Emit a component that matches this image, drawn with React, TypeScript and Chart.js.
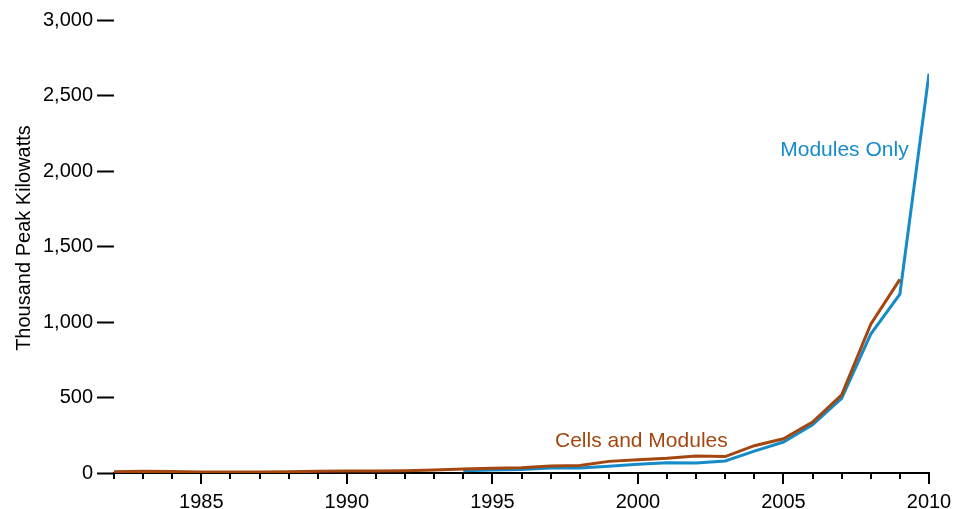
import React, { useEffect, useRef } from "react";
import { Chart, registerables } from "chart.js";

Chart.register(...registerables);

const years = [
  1982, 1983, 1984, 1985, 1986, 1987, 1988, 1989, 1990, 1991, 1992, 1993, 1994, 1995,
  1996, 1997, 1998, 1999, 2000, 2001, 2002, 2003, 2004, 2005, 2006, 2007, 2008, 2009, 2010,
];

const cellsAndModules: (number | null)[] = [
  8, 12, 10, 6, 6, 6, 8, 11, 13, 14, 15, 20, 26, 31, 35, 46, 50, 77, 88, 97, 112, 109,
  181, 227, 337, 517, 986, 1282, null,
];

const modulesOnly: (number | null)[] = [
  null, null, null, null, null, null, null, null, null, null, null, null, 15, 20, 24, 33,
  33, 45, 58, 68, 66, 80, 145, 205, 320, 495, 920, 1185, 2645,
];

const yTicks = [0, 500, 1000, 1500, 2000, 2500, 3000];

const BROWN = "#a4460f";
const BLUE = "#168bc8";
const FONT = "'Liberation Sans', Arial, Helvetica, sans-serif";

const seriesLabels = [
  { text: "Cells and Modules", color: BROWN, x: 1997.15, y: 212, align: "left" as CanvasTextAlign },
  { text: "Modules Only", color: BLUE, x: 2009.3, y: 2140, align: "right" as CanvasTextAlign },
];

const decorPlugin = {
  id: "decor",
  afterDraw(chart: any) {
    const ctx = chart.ctx as CanvasRenderingContext2D;
    const xs = chart.scales.x;
    const ys = chart.scales.y;
    const base = chart.chartArea.bottom;
    ctx.save();
    ctx.strokeStyle = "#000";
    ctx.lineWidth = 2;
    xs.ticks.forEach((t: any) => {
      const px = Math.round(xs.getPixelForValue(t.value));
      const len = t.value % 5 === 0 ? 11 : 6;
      ctx.beginPath();
      ctx.moveTo(px, base);
      ctx.lineTo(px, base + len);
      ctx.stroke();
    });
    ctx.fillStyle = "#000";
    ctx.font = `20px ${FONT}`;
    ctx.textAlign = "center";
    ctx.textBaseline = "middle";
    ctx.translate(24, 238);
    ctx.rotate(-Math.PI / 2);
    ctx.fillText("Thousand Peak Kilowatts", 0, 0);
    ctx.restore();

    ctx.save();
    ctx.font = `21px ${FONT}`;
    ctx.textBaseline = "middle";
    seriesLabels.forEach((l) => {
      ctx.fillStyle = l.color;
      ctx.textAlign = l.align;
      ctx.fillText(l.text, xs.getPixelForValue(l.x), ys.getPixelForValue(l.y));
    });
    ctx.restore();
  },
};

export default function App() {
  const ref = useRef<HTMLCanvasElement | null>(null);

  useEffect(() => {
    if (!ref.current) return;
    const chart = new Chart(ref.current, {
      type: "line",
      data: {
        datasets: [
          {
            label: "Cells and Modules",
            data: years.map((y, i) => ({ x: y, y: cellsAndModules[i] })),
            borderColor: BROWN,
            borderWidth: 3,
            pointRadius: 0,
            tension: 0,
            spanGaps: false,
          },
          {
            label: "Modules Only",
            data: years.map((y, i) => ({ x: y, y: modulesOnly[i] })),
            borderColor: BLUE,
            borderWidth: 3,
            pointRadius: 0,
            tension: 0,
            spanGaps: false,
          },
        ],
      },
      plugins: [decorPlugin],
      options: {
        animation: false,
        responsive: false,
        layout: { padding: { top: 20, right: 29, left: 0, bottom: 0 } },
        plugins: {
          legend: { display: false },
          tooltip: { enabled: false },
          title: { display: false },
        },
        scales: {
          x: {
            type: "linear",
            min: years[0],
            max: years[years.length - 1],
            afterFit: (s: any) => {
              s.height = 36;
              s.paddingLeft = 0;
              s.paddingRight = 0;
            },
            ticks: {
              stepSize: 1,
              autoSkip: false,
              maxRotation: 0,
              padding: 17,
              color: "#000",
              font: { size: 20, family: FONT },
              callback: (v: any) => (Number(v) % 5 === 0 ? String(v) : ""),
            },
            grid: { display: true, drawOnChartArea: false, drawTicks: false },
            border: { display: true, color: "#000", width: 2 },
          },
          y: {
            min: yTicks[0],
            max: yTicks[yTicks.length - 1],
            afterFit: (s: any) => {
              s.width = 114;
              s.paddingTop = 0;
              s.paddingBottom = 0;
            },
            afterBuildTicks: (s: any) => {
              s.ticks = yTicks.map((v) => ({ value: v }));
            },
            ticks: {
              padding: 4,
              color: "#000",
              font: { size: 20, family: FONT },
              callback: (v: any) => Number(v).toLocaleString("en-US"),
            },
            grid: {
              display: true,
              drawOnChartArea: false,
              drawTicks: true,
              tickLength: 17,
              tickWidth: 2,
              tickColor: "#000",
            },
            border: { display: false },
          },
        },
      },
    });
    return () => chart.destroy();
  }, []);

  return (
    <div style={{ position: "fixed", left: 0, top: 0, width: 958, height: 509, background: "#fff" }}>
      <canvas ref={ref} width={958} height={509} style={{ width: 958, height: 509 }} />
    </div>
  );
}
